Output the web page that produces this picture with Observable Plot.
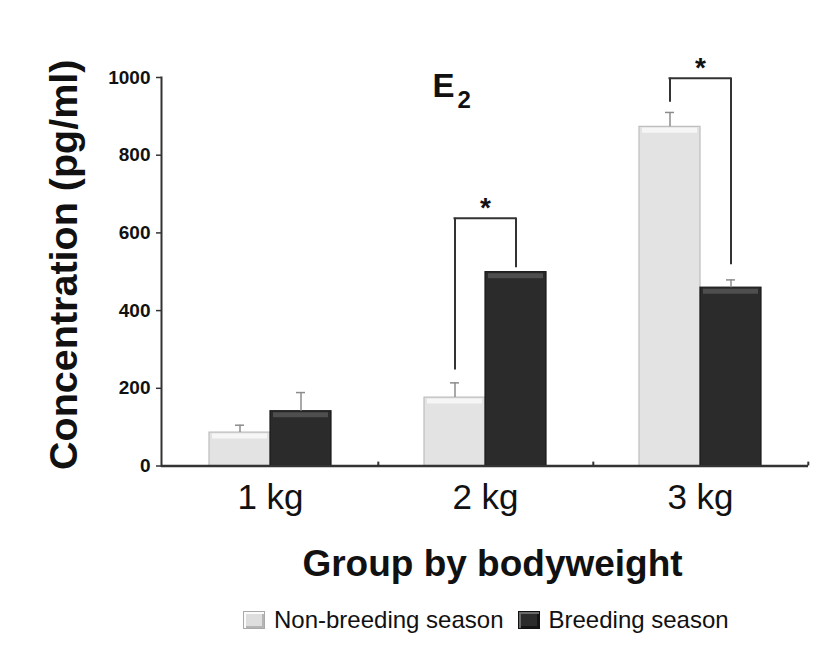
<!DOCTYPE html>
<html><head><meta charset="utf-8">
<script src="https://cdn.jsdelivr.net/npm/d3@7"></script>
<script src="https://cdn.jsdelivr.net/npm/@observablehq/plot@0.6"></script>
<style>
body{margin:0;background:#fff;font-family:"Liberation Sans",Arial,sans-serif;}
#legend{display:flex;align-items:center;padding-left:243px;margin-top:6px;font-size:24px;color:#111;}
.sw{width:22px;height:18px;margin-right:9px;box-sizing:border-box;}
.sw.light{background:#dedede;border:1px solid #a9a9a9;box-shadow:inset 2px 2px 0 #fbfbfb, inset -2px -2px 0 #b5b5b5;}
.sw.dark{background:#2b2b2b;border:1px solid #111;box-shadow:inset 2px 2px 0 #6a6a6a, inset -2px -2px 0 #151515;}
.lt{margin-right:14px;}
</style></head><body>
<div id="chart"></div>
<div id="legend"></div>
<script>
const groups = ["1 kg", "2 kg", "3 kg"];
const seasons = ["Non-breeding season", "Breeding season"];
const nonBreeding = [86, 176, 873];
const nonBreedingErr = [19, 38, 37];
const breeding = [141, 499, 459];
const breedingErr = [48, 0, 20];
const yTicks = [0, 200, 400, 600, 800, 1000];
const sigGroups = ["2 kg", "3 kg"];
const bracketTop = [638, 998];
const bracketLeftEnd = [247, 936];
const bracketRightEnd = [510, 518];
const titleMain = "E";
const titleSub = "2";
const yLabel = "Concentration (pg/ml)";
const xLabel = "Group by bodyweight";

const nb = groups.map((g, i) => ({group: g, value: nonBreeding[i], err: nonBreedingErr[i]}));
const br = groups.map((g, i) => ({group: g, value: breeding[i], err: breedingErr[i]}));
const sig = sigGroups.map((g, i) => ({group: g, top: bracketTop[i], l: bracketLeftEnd[i], r: bracketRightEnd[i]}));

const HALF = 61;      // half of group band width (one bar)
const OFF = 30.5;     // bar centre offset from group centre
const FONT = "Liberation Sans, Arial, sans-serif";
const axisColor = "#333";

const chart = Plot.plot({
  width: 827, height: 600,
  marginLeft: 161, marginRight: 19, marginTop: 77, marginBottom: 134.5,
  style: {fontFamily: FONT, background: "#fff", color: "#111"},
  x: {type: "band", domain: groups, paddingInner: 0.434, paddingOuter: 0.217, align: 0.5},
  y: {domain: [0, 1000]},
  marks: [
    Plot.barY(nb, {x: "group", y: "value", insetRight: HALF, fill: "#e3e3e3", stroke: "#bdbdbd", strokeWidth: 1.2}),
    Plot.tickY(nb, {x: "group", y: "value", dy: 3.5, insetLeft: 3, insetRight: HALF + 3, stroke: "#f6f6f6", strokeWidth: 5}),
    Plot.barY(br, {x: "group", y: "value", insetLeft: HALF, fill: "#2b2b2b", stroke: "#1a1a1a", strokeWidth: 1.2}),
    Plot.tickY(br, {x: "group", y: "value", dy: 3.5, insetLeft: HALF + 3, insetRight: 3, stroke: "#4e4e4e", strokeWidth: 5}),
    // error bars
    Plot.ruleX(nb.filter(d => d.err > 0), {x: "group", y1: "value", y2: d => d.value + d.err, dx: -OFF, stroke: "#8c8c8c", strokeWidth: 1.5}),
    Plot.tickY(nb.filter(d => d.err > 0), {x: "group", y: d => d.value + d.err, insetLeft: 26, insetRight: 87, stroke: "#8c8c8c", strokeWidth: 1.5}),
    Plot.ruleX(br.filter(d => d.err > 0), {x: "group", y1: "value", y2: d => d.value + d.err, dx: OFF, stroke: "#8c8c8c", strokeWidth: 1.5}),
    Plot.tickY(br.filter(d => d.err > 0), {x: "group", y: d => d.value + d.err, insetLeft: 87, insetRight: 26, stroke: "#8c8c8c", strokeWidth: 1.5}),
    // significance brackets
    Plot.ruleX(sig, {x: "group", y1: "top", y2: "l", dx: -OFF, stroke: "#333", strokeWidth: 2}),
    Plot.ruleX(sig, {x: "group", y1: "top", y2: "r", dx: OFF, stroke: "#333", strokeWidth: 2}),
    Plot.tickY(sig, {x: "group", y: "top", insetLeft: OFF - 1, insetRight: OFF - 1, stroke: "#333", strokeWidth: 2}),
    Plot.text(sig, {x: "group", y: "top", text: () => "*", dy: -10, fontSize: 28, fontWeight: "bold", fill: "#111"}),
    // axes
    Plot.ruleY([0], {stroke: axisColor, strokeWidth: 2.5}),
    Plot.ruleX(groups, {x: d => d, y1: 0, y2: 10, dx: 107.8, stroke: axisColor, strokeWidth: 2}),
    Plot.frame({anchor: "left", stroke: axisColor, strokeWidth: 2}),
    Plot.axisY({ticks: yTicks, tickFormat: d => String(d), tickSize: 5, tickPadding: 6, fontSize: 19, fontWeight: "bold", label: null, stroke: axisColor, strokeWidth: 1.5}),
    Plot.axisX({tickSize: 0, tickPadding: 18, fontSize: 35, label: null}),
    // titles
    Plot.text([titleMain], {frameAnchor: "top-left", text: d => d, textAnchor: "start", lineAnchor: "top", dx: 271, dy: -4, fontSize: 33, fontWeight: "bold", fill: "#111"}),
    Plot.text([titleSub], {frameAnchor: "top-left", text: d => d, textAnchor: "start", lineAnchor: "top", dx: 296, dy: 13, fontSize: 24, fontWeight: "bold", fill: "#111"}),
    Plot.text([yLabel], {frameAnchor: "left", text: d => d, rotate: -90, textAnchor: "middle", dx: -97, dy: -7, fontSize: 39.5, fontWeight: "bold", fill: "#111"}),
    Plot.text([xLabel], {frameAnchor: "bottom", text: d => d, textAnchor: "middle", lineAnchor: "top", dx: 7.5, dy: 83.5, fontSize: 37, fontWeight: "bold", fill: "#111"})
  ]
});
document.getElementById("chart").appendChild(chart);

const legend = document.getElementById("legend");
seasons.forEach((s, i) => {
  const sw = document.createElement("div");
  sw.className = "sw " + (i === 0 ? "light" : "dark");
  const t = document.createElement("span");
  t.className = "lt";
  t.textContent = s;
  legend.appendChild(sw);
  legend.appendChild(t);
});
</script>
</body></html>
